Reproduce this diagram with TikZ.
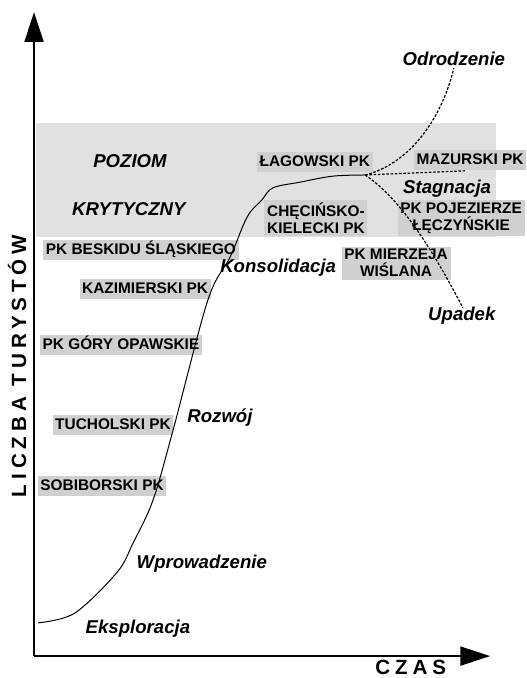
\documentclass[tikz,border=0pt]{standalone}
\usepackage{fontspec}
\setmainfont{Liberation Sans}
\usetikzlibrary{arrows.meta,positioning}
\definecolor{ink}{HTML}{000000}
\definecolor{zone}{HTML}{E1E1E1}
\definecolor{tagbg}{HTML}{D0D0D0}

\begin{document}
\begin{tikzpicture}[
    every node/.style={text=ink},
    park/.style={fill=tagbg, inner xsep=2pt, inner ysep=1.5pt, align=center,
        text height=9.3pt, text depth=2.6pt,
        font=\fontsize{11.6}{12.8}\selectfont\bfseries},
    parktwo/.style={park, text height={}, text depth={}, inner ysep=2pt},
    phase/.style={anchor=base, font=\fontsize{14}{16}\selectfont\bfseries\itshape},
    axislabel/.style={font=\fontsize{15.5}{17}\selectfont\bfseries\addfontfeature{LetterSpace=24}},
    axis/.style={line width=1.8pt, -{Triangle[length=0.79cm, width=0.5cm]}},
    branch/.style={line width=0.9pt, dash pattern=on 2pt off 1.2pt},
]
\useasboundingbox (0,0) rectangle (13.92,-17.94);

% Critical level zone
\fill[zone] (0.95,-3.25) rectangle (13.12,-6.27);
\node[phase] (poziom) at (3.44,-4.42) {POZIOM};
\node[phase] (kryt) at (3.41,-5.69) {KRYTYCZNY};

% Parks along the curve
\node[park] (beskid) at (3.73,-6.62) {PK BESKIDU ŚLĄSKIEGO};
\node[park] (kazim) at (3.84,-7.65) {KAZIMIERSKI PK};
\node[park] (opaw) at (3.20,-9.13) {PK GÓRY OPAWSKIE};
\node[park] (tuchol) at (2.99,-11.25) {TUCHOLSKI PK};
\node[park] (sobib) at (2.70,-12.86) {SOBIBORSKI PK};
\node[park] (lagow) at (8.33,-4.29) {ŁAGOWSKI PK};
\node[park] (checin) [parktwo] at (8.36,-5.77) {CHĘCIŃSKO-\\KIELECKI PK};
\node[park] (mazur) at (12.44,-4.23) {MAZURSKI PK};
\node[park] (pojez) [parktwo] at (12.20,-5.77) {PK POJEZIERZE\\ŁĘCZYŃSKIE};
\node[park] (mierz) [parktwo] at (10.48,-6.96) {PK MIERZEJA\\WIŚLANA};

% Phases
\node[phase] (ekspl) at (3.65,-16.75) {Eksploracja};
\node[phase] (wprow) at (5.34,-15.03) {Wprowadzenie};
\node[phase] (rozwoj) at (5.82,-11.19) {Rozwój};
\node[phase] (konsol) at (7.36,-7.20) {Konsolidacja};
\node[phase] (stagn) at (11.83,-5.11) {Stagnacja};
\node[phase] (odrodz) at (12.01,-1.72) {Odrodzenie};
\node[phase] (upadek) at (12.22,-8.49) {Upadek};

% Life cycle curve
\coordinate (split) at (9.66,-4.63);
\draw[line width=0.75pt] plot[smooth, tension=0.55] coordinates {
    (1.01,-16.48) (1.98,-16.22) (3.10,-15.14) (3.52,-14.37) (4.05,-13.23)
    (4.58,-11.38) (5.50,-7.94) (6.09,-6.80) (6.54,-5.74) (6.93,-5.29)
    (7.22,-4.97) (7.94,-4.82) (8.81,-4.66) (9.66,-4.63)};

% Branches
\coordinate (odr) at (12.01,-1.80);
\coordinate (stag) at (12.30,-4.52);
\coordinate (upad) at (12.25,-8.15);
\draw[branch] (split) .. controls (10.72,-4.37) and (11.64,-3.31) .. (odr);
\draw[branch] (split) -- (stag);
\draw[branch] (split) .. controls (10.45,-5.16) and (11.25,-6.22) .. (upad);

% Axes
\coordinate (org) at (0.90,-17.36);
\coordinate (ytop) at (0.90,-0.32);
\coordinate (xend) at (12.97,-17.36);
\draw[axis] (org) -- (ytop);
\draw[axis] (org) -- (xend);
\node[axislabel, rotate=90] (ylab) at (0.45,-9.68) {LICZBA TURYSTÓW};
\node[axislabel, anchor=base] (xlab) at (10.87,-17.86) {CZAS};

\end{tikzpicture}
\end{document}
